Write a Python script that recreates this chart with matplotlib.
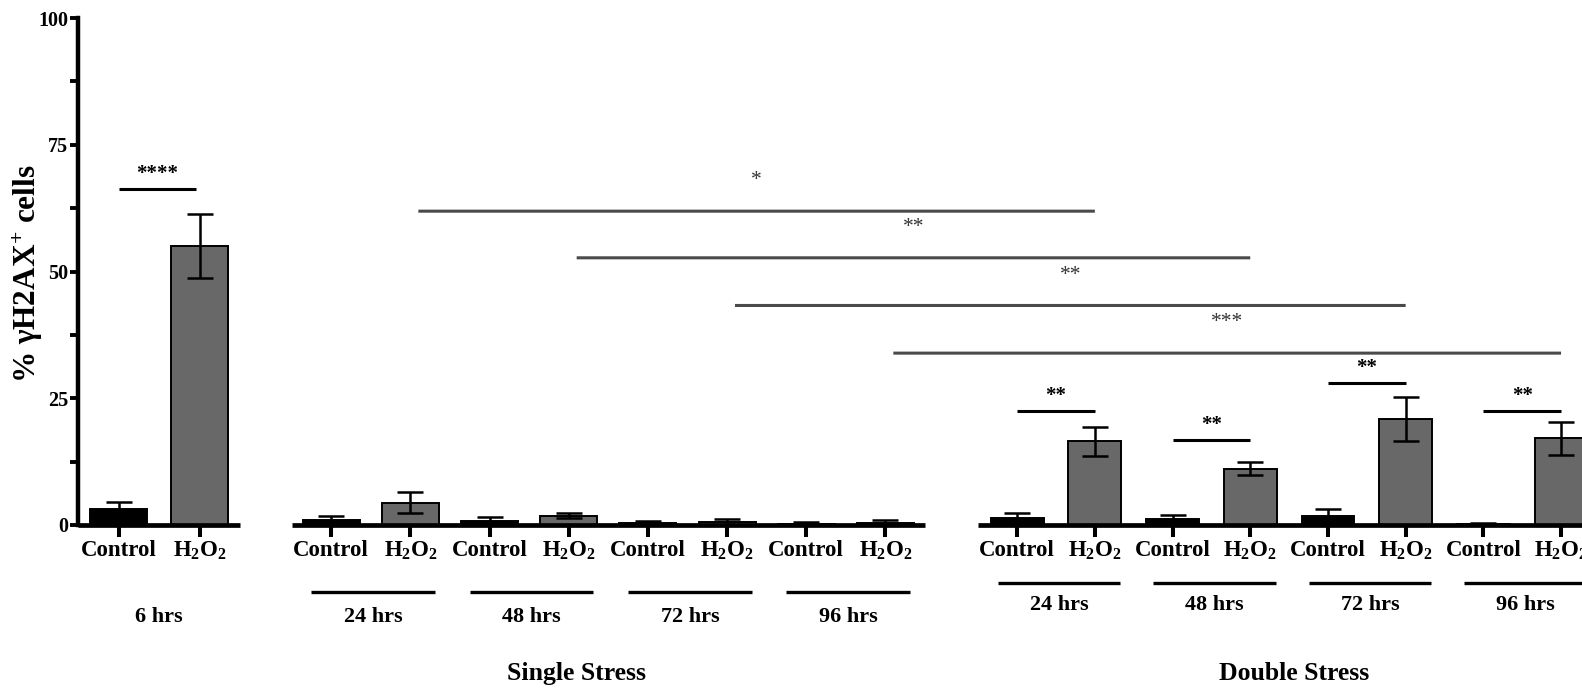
import numpy as np
import matplotlib
matplotlib.use("Agg")
import matplotlib.pyplot as plt
from matplotlib.patches import ConnectionPatch

plt.rcParams["font.family"] = ["Liberation Serif", "DejaVu Serif"]
plt.rcParams["font.weight"] = "bold"
plt.rcParams["mathtext.fontset"] = "custom"
plt.rcParams["mathtext.rm"] = "Liberation Serif:bold"
plt.rcParams["mathtext.bf"] = "Liberation Serif:bold"
plt.rcParams["mathtext.it"] = "Liberation Serif:bold:italic"
plt.rcParams["mathtext.default"] = "rm"

# ---------------- data ----------------
conditions = ["Control", r"$\mathrm{H_2O_2}$"]

acute_time = "6 hrs"
acute_mean = [3.15, 55.0]
acute_sem = [1.45, 6.3]
acute_sig = "****"
acute_sig_y = 66.3

timepoints = ["24 hrs", "48 hrs", "72 hrs", "96 hrs"]

single_ctrl = [0.9, 0.7, 0.3, 0.2]
single_ctrl_sem = [0.8, 0.8, 0.5, 0.4]
single_h2o2 = [4.4, 1.8, 0.6, 0.3]
single_h2o2_sem = [2.1, 0.5, 0.6, 0.7]

double_ctrl = [1.45, 1.2, 1.8, 0.2]
double_ctrl_sem = [0.85, 0.8, 1.4, 0.1]
double_h2o2 = [16.5, 11.1, 20.9, 17.1]
double_h2o2_sem = [2.9, 1.3, 4.4, 3.2]
double_sig = ["**", "**", "**", "**"]
double_sig_y = [22.5, 16.7, 28.0, 22.5]

# single vs double stress (H2O2) at each time point
cross_sig = ["*", "**", "**", "***"]
cross_sig_y = [61.9, 52.7, 43.3, 33.9]

# ---------------- style ----------------
CTRL_COLOR = "#000000"
H2O2_COLOR = "#686868"
TICK_FS = 16.5
GROUP_FS = 16
AXIS_LW = 3.4
BAR_LW = 1.4
ERR_LW = 1.8
CAP = 9.7

W, H = 1582, 691
fig = plt.figure(figsize=(W / 100, H / 100), dpi=100)

y0_px, y100_px = 525.0, 18.0
bottom = (H - y0_px) / H
height = (y0_px - y100_px) / H


def make_axes(left_px, width_px):
    return fig.add_axes([left_px / W, bottom, width_px / W, height])


ax0 = make_axes(78.3, 161.7)
ax1 = make_axes(291.7, 633.3)
ax2 = make_axes(978.3, 621.6)

for ax in (ax0, ax1, ax2):
    ax.set_ylim(0, 100)
    ax.set_facecolor("none")
    for s in ("top", "right"):
        ax.spines[s].set_visible(False)
    ax.spines["bottom"].set_linewidth(AXIS_LW)
    ax.spines["bottom"].set_capstyle("butt")
    ax.tick_params(axis="x", direction="out", length=8.6, width=2.9,
                   pad=2.0, labelsize=TICK_FS)

for ax in (ax1, ax2):
    ax.spines["left"].set_visible(False)
    ax.tick_params(axis="y", left=False, labelleft=False)

ax0.spines["left"].set_linewidth(3.2)
ax0.set_yticks([0, 25, 50, 75, 100])
ax0.set_yticks([12.5, 37.5, 62.5, 87.5], minor=True)
ax0.tick_params(axis="y", which="both", direction="out", length=6,
                width=2.8, pad=1.5, labelsize=14.5)


def draw_bars(ax, ctrl, ctrl_err, trt, trt_err, width):
    n = len(ctrl)
    xc = np.arange(n) * 2
    xt = xc + 1
    ax.bar(xc, ctrl, width=width, color=CTRL_COLOR, edgecolor="black",
           linewidth=BAR_LW, zorder=2)
    ax.bar(xt, trt, width=width, color=H2O2_COLOR, edgecolor="black",
           linewidth=BAR_LW, zorder=2)
    ax.errorbar(xc, ctrl, yerr=ctrl_err, fmt="none", ecolor="black",
                elinewidth=ERR_LW, capsize=CAP, capthick=ERR_LW, zorder=3)
    ax.errorbar(xt, trt, yerr=trt_err, fmt="none", ecolor="black",
                elinewidth=ERR_LW, capsize=CAP, capthick=ERR_LW, zorder=3)
    ticks = np.arange(2 * n)
    ax.set_xticks(ticks, conditions * n)
    ax.set_xlim(-0.5, 2 * n - 0.5)


def bracket(ax, x1, x2, y, label, off=3.0):
    ax.plot([x1, x2], [y, y], color="black", lw=2.2, clip_on=False,
            solid_capstyle="butt")
    ax.text((x1 + x2) / 2, y + off, label, ha="center", va="center",
            fontsize=15, fontweight="bold")


# 6 hr panel
draw_bars(ax0, acute_mean[:1], acute_sem[:1], acute_mean[1:], acute_sem[1:], 0.70)
bracket(ax0, 0.0, 0.95, acute_sig_y, acute_sig)
ax0.text(0.5, -18.1, acute_time, ha="center", va="center", fontsize=GROUP_FS)

# single stress panel
draw_bars(ax1, single_ctrl, single_ctrl_sem, single_h2o2, single_h2o2_sem, 0.72)
for i, t in enumerate(timepoints):
    c = 2 * i + 0.53
    ax1.plot([c - 0.78, c + 0.78], [-13.2, -13.2], color="black", lw=2.4,
             clip_on=False, solid_capstyle="butt")
    ax1.text(c, -18.1, t, ha="center", va="center", fontsize=GROUP_FS)
ax1.text(3.1, -29.2, "Single Stress", ha="center", va="center", fontsize=18.5)

# double stress panel
draw_bars(ax2, double_ctrl, double_ctrl_sem, double_h2o2, double_h2o2_sem, 0.68)
for i, t in enumerate(timepoints):
    c = 2 * i + 0.54
    ax2.plot([c - 0.79, c + 0.79], [-11.4, -11.4], color="black", lw=2.4,
             clip_on=False, solid_capstyle="butt")
    ax2.text(c, -15.8, t, ha="center", va="center", fontsize=GROUP_FS)
    bracket(ax2, 2 * i, 2 * i + 1, double_sig_y[i], double_sig[i])
ax2.text(3.57, -29.2, "Double Stress", ha="center", va="center", fontsize=18.5)

# single vs double stress comparisons spanning both panels
for i, (lab, y) in enumerate(zip(cross_sig, cross_sig_y)):
    xs = 2 * i + 1
    con = ConnectionPatch(xyA=(xs + 0.1, y), coordsA=ax1.transData,
                          xyB=(xs, y), coordsB=ax2.transData,
                          color="#4a4a4a", lw=2.2, capstyle="butt")
    fig.add_artist(con)
    pa = ax1.transData.transform((xs + 0.1, y + 6.0))
    pb = ax2.transData.transform((xs, y + 6.0))
    mid = fig.transFigure.inverted().transform(((pa[0] + pb[0]) / 2, pa[1]))
    fig.text(mid[0], mid[1], lab, ha="center", va="center", fontsize=15.5,
             fontweight="normal", color="#333333")

fig.text(28 / W, (H - 274) / H, r"% γH2AX$^{+}$ cells", rotation=90,
         ha="center", va="center", fontsize=22.5)

fig.savefig("out.png", dpi=100)
